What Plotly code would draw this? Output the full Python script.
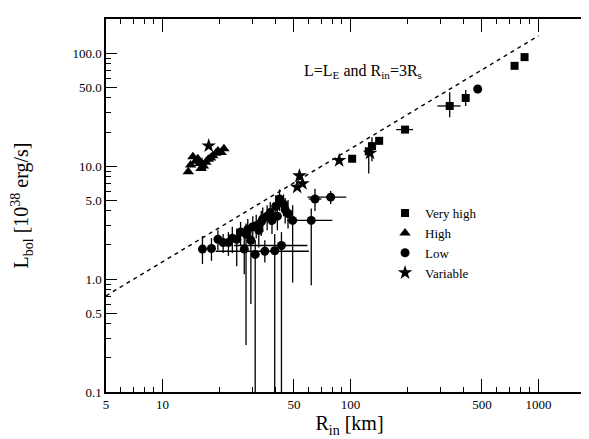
import math
import plotly.graph_objects as go

# ---------------- data ----------------
# Very high state (squares)
vh_R = [102, 125, 130, 142, 195, 337, 410, 746, 843]
vh_L = [11.6, 13.5, 15.0, 16.7, 21.0, 34.0, 40.0, 77.0, 92.0]
vh_Lhi = [12.5, 16.0, 18.0, 18.0, 22.0, 45.0, 47.0, 80.0, 95.0]
vh_Llo = [10.8, 8.6, 11.0, 15.5, 20.0, 27.0, 34.0, 74.0, 89.0]
vh_Rlo = [98, 120, 124, 138, 175, 290, 395, 735, 830]
vh_Rhi = [106, 131, 137, 147, 215, 385, 425, 758, 856]

# High state (triangles)
hi_R = [13.7, 14.1, 14.5, 15.0, 15.4, 15.8, 16.0, 16.5, 17.0, 17.5, 18.0, 18.5, 19.2, 19.7, 20.5, 21.2]
hi_L = [8.9, 10.2, 12.1, 11.0, 11.6, 10.5, 9.5, 10.0, 10.8, 11.5, 11.8, 12.3, 13.0, 13.6, 13.2, 14.2]

# Low state (circles)
lo_R = [16.3, 18.2, 19.7, 21.0, 22.4, 23.5, 24.8, 26.0, 27.2, 27.8, 28.4, 29.5, 30.2, 31.1, 31.5,
        32.5, 33.5, 34.1, 35.0, 36.0, 37.4, 38.2, 39.5, 40.0, 40.8, 41.9, 42.9, 44.0, 44.9, 46.5,
        49.2, 61.8, 64.7, 78.4, 475]
lo_L = [1.84, 1.86, 2.25, 2.10, 2.10, 2.30, 2.25, 2.60, 1.84, 2.50, 2.76, 2.20, 2.90, 1.65, 2.96,
        2.70, 3.20, 3.40, 1.76, 3.60, 3.87, 3.30, 1.78, 4.40, 3.60, 5.10, 1.98, 4.60, 4.10, 3.80,
        3.30, 3.30, 5.10, 5.30, 48.0]
lo_Lhi = [2.4, 2.3, 2.7, 2.5, 2.6, 2.9, 2.8, 3.2, 2.6, 3.1, 3.4, 2.9, 3.6, 2.2, 3.7,
          3.4, 4.0, 4.3, 2.2, 4.5, 4.8, 4.2, 2.5, 5.5, 4.6, 6.2, 2.6, 5.6, 5.2, 5.0,
          4.5, 4.2, 6.3, 6.0, 52.0]
lo_Llo = [1.36, 1.45, 1.8, 1.7, 1.6, 1.7, 1.3, 2.0, 1.1, 0.26, 2.1, 0.6, 2.2, 0.05, 2.3,
          1.9, 2.4, 2.6, 1.4, 2.7, 3.0, 2.5, 0.05, 3.4, 2.7, 4.0, 0.05, 3.6, 3.1, 2.8,
          0.93, 0.88, 4.0, 4.6, 44.0]
lo_Rlo = [15.5, 17.3, 18.8, 20.0, 21.3, 22.3, 23.5, 24.7, 25.8, 26.4, 27.0, 28.0, 28.7, 29.5, 29.9,
          30.9, 31.8, 32.4, 19.2, 34.2, 35.5, 36.3, 37.5, 38.0, 38.8, 39.8, 24.0, 41.8, 42.7, 44.2,
          46.0, 52.0, 60.0, 59.0, 455]
lo_Rhi = [17.1, 19.2, 20.8, 22.0, 23.5, 24.7, 26.1, 27.3, 28.6, 29.2, 29.8, 31.0, 31.7, 32.7, 33.1,
          34.1, 35.2, 35.8, 60.0, 37.8, 39.3, 40.1, 41.5, 42.0, 42.8, 44.0, 59.0, 46.2, 47.1, 48.8,
          52.5, 80.0, 70.0, 95.0, 495]

# Variable (stars)
var_R = [17.6, 16.2, 52.0, 53.5, 55.5, 87.0, 127.0]
var_L = [15.1, 10.3, 6.5, 8.2, 7.0, 11.2, 13.0]

# Eddington line L = L_E with R_in = 3 R_s  (L [1e38] = 0.142 * R [km])
line_R = [5, 1000]
edd_coef = 0.142

x_ticks = [5, 10, 50, 100, 500, 1000]
x_ticktext = ["5", "10", "50", "100", "500", "1000"]
y_ticks = [0.1, 0.5, 1, 5, 10, 50, 100]
y_ticktext = ["0.1", "0.5", "1.0", "5.0", "10.0", "50.0", "100.0"]

# ---------------- figure ----------------
def errs(v, hi, lo):
    return [h - x for x, h in zip(v, hi)], [x - l for x, l in zip(v, lo)]

SERIF = "Liberation Serif, DejaVu Serif, serif"
fig = go.Figure()

fig.add_trace(go.Scatter(
    x=line_R, y=[edd_coef * r for r in line_R], mode="lines",
    line=dict(color="black", width=1.4, dash="4px,4px"), showlegend=False, hoverinfo="skip"))

p, m = errs(vh_L, vh_Lhi, vh_Llo)
px_, mx_ = errs(vh_R, vh_Rhi, vh_Rlo)
fig.add_trace(go.Scatter(
    x=vh_R, y=vh_L, mode="markers", name="Very high",
    marker=dict(symbol="square", size=8, color="black"),
    error_y=dict(type="data", symmetric=False, array=p, arrayminus=m, color="black", thickness=1.3, width=0),
    error_x=dict(type="data", symmetric=False, array=px_, arrayminus=mx_, color="black", thickness=1.3, width=0)))

fig.add_trace(go.Scatter(
    x=hi_R, y=hi_L, mode="markers", name="High",
    marker=dict(symbol="triangle-up", size=10, color="black")))

p, m = errs(lo_L, lo_Lhi, lo_Llo)
px_, mx_ = errs(lo_R, lo_Rhi, lo_Rlo)
fig.add_trace(go.Scatter(
    x=lo_R, y=lo_L, mode="markers", name="Low",
    marker=dict(symbol="circle", size=9, color="black"),
    error_y=dict(type="data", symmetric=False, array=p, arrayminus=m, color="black", thickness=1.3, width=0),
    error_x=dict(type="data", symmetric=False, array=px_, arrayminus=mx_, color="black", thickness=1.3, width=0)))

fig.add_trace(go.Scatter(
    x=var_R, y=var_L, mode="markers", name="Variable",
    marker=dict(symbol="star", size=11, color="black")))

axis_common = dict(
    type="log", showgrid=False, zeroline=False, showline=True, linecolor="black", linewidth=1.5,
    mirror="allticks", ticks="inside", tickcolor="black", tickwidth=1.3,
    tickfont=dict(family=SERIF, size=13, color="black"))

fig.update_xaxes(
    **axis_common, range=[math.log10(5), math.log10(1950)],
    tickvals=x_ticks, ticktext=x_ticktext, ticklen=13,
    minor=dict(ticks="inside", ticklen=5, tickcolor="black", tickwidth=1,
               tickvals=[6, 7, 8, 9, 20, 30, 40, 60, 70, 80, 90, 200, 300, 400, 600, 700, 800, 900]),
    title=dict(text="R<sub>in</sub> [km]", font=dict(family=SERIF, size=20, color="black"), standoff=2))

fig.update_yaxes(
    **axis_common, range=[-1, math.log10(200)],
    tickvals=y_ticks, ticktext=y_ticktext, ticklen=11,
    minor=dict(ticks="inside", ticklen=5, tickcolor="black", tickwidth=1,
               tickvals=[0.2, 0.3, 0.4, 0.6, 0.7, 0.8, 0.9, 2, 3, 4, 6, 7, 8, 9,
                         20, 30, 40, 60, 70, 80, 90, 200]),
    title=dict(text="L<sub>bol</sub> [10<sup>38</sup> erg/s]",
               font=dict(family=SERIF, size=20, color="black"), standoff=38))

fig.add_annotation(
    x=math.log10(117), y=math.log10(69), xref="x", yref="y", showarrow=False,
    text="L=L<sub>E</sub> and R<sub>in</sub>=3R<sub>s</sub>",
    font=dict(family=SERIF, size=16, color="black"))

fig.update_layout(
    width=589, height=439, margin=dict(l=98, r=2, t=11, b=55),
    paper_bgcolor="white", plot_bgcolor="white",
    legend=dict(x=0.573, y=0.52, xanchor="left", yanchor="top", bgcolor="rgba(0,0,0,0)",
                font=dict(family=SERIF, size=13, color="black"), traceorder="normal",
                itemwidth=30, tracegroupgap=0),
    font=dict(family=SERIF, color="black"))

fig.write_html("out.html")
